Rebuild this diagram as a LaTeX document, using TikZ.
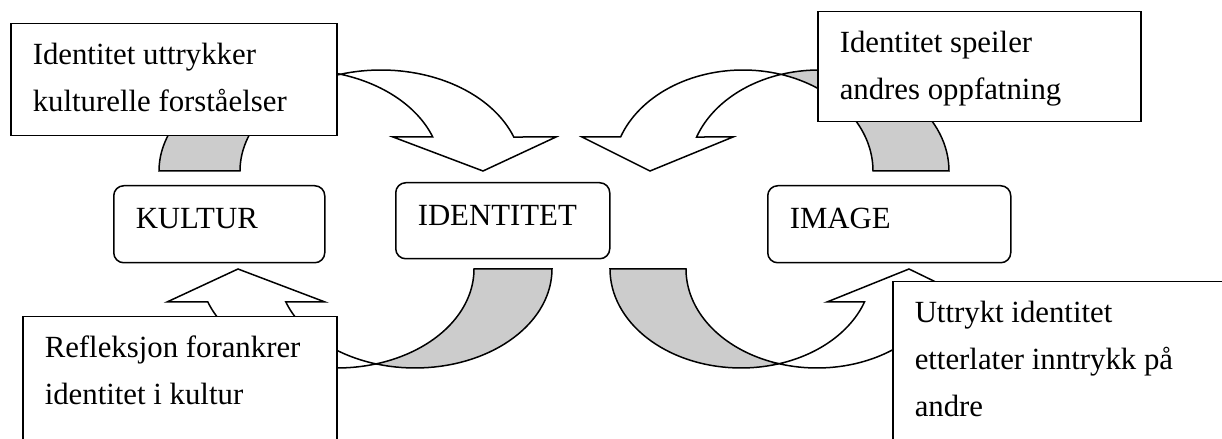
\documentclass[tikz,border=0pt]{standalone}
\usepackage{fontspec}
\setmainfont{Liberation Serif}
\usetikzlibrary{calc}

\definecolor{bandgray}{HTML}{CCCCCC}

% text block of fixed size, first baseline #1 below the top
\newcommand{\boxtext}[4][20.5pt]{\parbox[t][#2][t]{#3}{\raggedright\rule{0pt}{#1}#4}}

\tikzset{
  txtbox/.style={draw, fill=white, line width=0.75pt, anchor=north west,
    inner xsep=11pt, inner ysep=0pt, font=\fontsize{15.4pt}{23.5pt}\selectfont},
  roundbox/.style={txtbox, rounded corners=5pt},
  backband/.style={draw, fill=bandgray, line width=0.75pt},
  frontband/.style={draw, fill=white, line width=0.75pt},
}

\begin{document}
\begin{tikzpicture}[x=0.5pt, y=0.5pt]
  \useasboundingbox (0,0) rectangle (1222,439);
  \clip (0,0) rectangle (1222,439);

  % KULTUR -> IDENTITET, over the top
  \path[backband] plot[domain=73.3:180, samples=40] ({300+141*cos(\x)}, {268+101*sin(\x)})
    -- plot[domain=180:106.7, samples=40] ({381+141*cos(\x)}, {268+101*sin(\x)}) -- cycle;
  \path[frontband] plot[domain=106.7:19.67, samples=40] ({381+141*cos(\x)}, {268+101*sin(\x)})
    -- (556,302) -- (483,268) -- (393,302)
    -- plot[domain=19.67:73.3, samples=40] ({300+141*cos(\x)}, {268+101*sin(\x)}) -- cycle;

  % IMAGE -> IDENTITET, over the top
  \path[backband] plot[domain=107:0, samples=40] ({819+130*cos(\x)}, {268+101*sin(\x)})
    -- plot[domain=0:73, samples=40] ({743+130*cos(\x)}, {268+101*sin(\x)}) -- cycle;
  \path[frontband] plot[domain=160.33:73, samples=40] ({743+130*cos(\x)}, {268+101*sin(\x)})
    -- plot[domain=107:160.33, samples=40] ({819+130*cos(\x)}, {268+101*sin(\x)})
    -- (733,302) -- (650,268) -- (582,302) -- cycle;

  % IDENTITET -> KULTUR, underneath
  \path[backband] plot[domain=253.5:360, samples=40] ({415+137*cos(\x)}, {170+99*sin(\x)})
    -- plot[domain=360:286.5, samples=40] ({337+137*cos(\x)}, {170+99*sin(\x)}) -- cycle;
  \path[frontband] plot[domain=199.47:286.5, samples=40] ({337+137*cos(\x)}, {170+99*sin(\x)})
    -- plot[domain=253.5:199.47, samples=40] ({415+137*cos(\x)}, {170+99*sin(\x)})
    -- (325,137) -- (238,170) -- (167,137) -- cycle;

  % IDENTITET -> IMAGE, underneath
  \path[backband] plot[domain=180:286.9, samples=40] ({741+131*cos(\x)}, {170+99*sin(\x)})
    -- plot[domain=253.1:180, samples=40] ({817+131*cos(\x)}, {170+99*sin(\x)}) -- cycle;
  \path[frontband] plot[domain=340.53:253.1, samples=40] ({817+131*cos(\x)}, {170+99*sin(\x)})
    -- plot[domain=286.9:340.53, samples=40] ({741+131*cos(\x)}, {170+99*sin(\x)})
    -- (827,137) -- (909,170) -- (977,137) -- cycle;

  % text boxes
  \node[txtbox] (uttrykker) at (10,416)
    {\boxtext{56pt}{141pt}{Identitet uttrykker\\kulturelle forståelser}};
  \node[txtbox] (speiler) at (817,428)
    {\boxtext{55pt}{139.5pt}{Identitet speiler\\andres oppfatning}};
  \node[txtbox] (refleksjon) at (22,123)
    {\boxtext{75pt}{135pt}{Refleksjon forankrer\\identitet i kultur}};
  \node[txtbox] (uttrykt) at (892,158)
    {\boxtext{100pt}{178pt}{Uttrykt identitet\\etterlater inntrykk på\\andre}};

  % the three concepts
  \node[roundbox] (kultur) at (113,254) {\boxtext[21.5pt]{38.5pt}{83.5pt}{KULTUR}};
  \node[roundbox] (identitet) at (395,257) {\boxtext[21.5pt]{38pt}{85pt}{IDENTITET}};
  \node[roundbox] (image) at (767,254) {\boxtext[21.5pt]{38.5pt}{99.5pt}{IMAGE}};
\end{tikzpicture}
\end{document}
